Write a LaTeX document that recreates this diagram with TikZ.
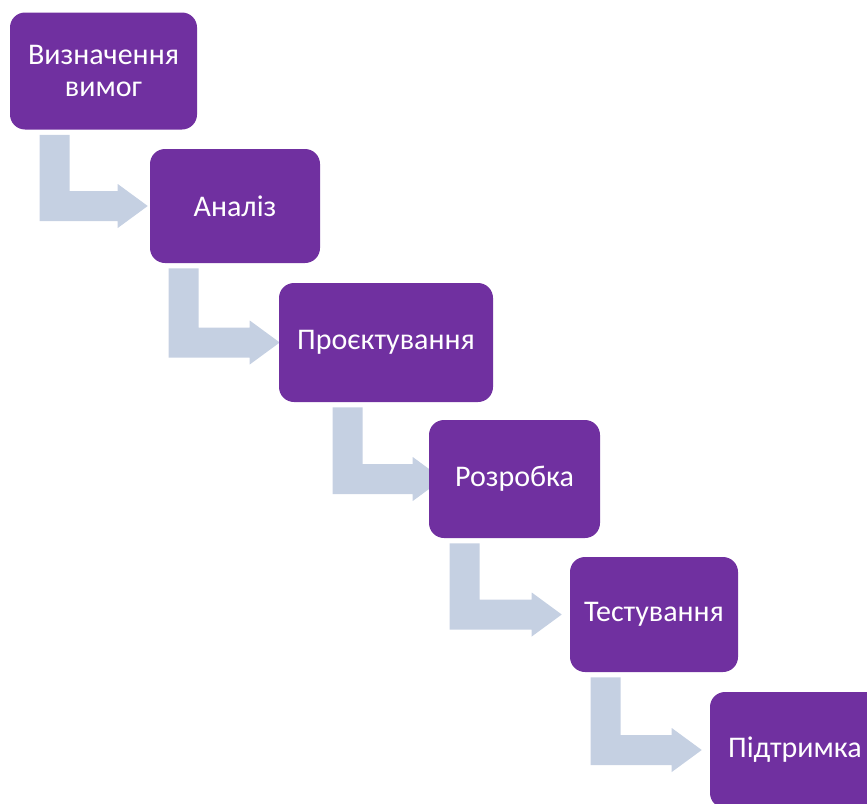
\documentclass[tikz,border=0pt]{standalone}
\usepackage{fontspec}
\setmainfont{Carlito}
\usetikzlibrary{calc,backgrounds}
\definecolor{stepviolet}{RGB}{112,48,160}
\definecolor{flowgrey}{RGB}{197,208,226}
\tikzset{
  stagebox/.style={fill=stepviolet, draw=none, rounded corners=11.25pt,
    text=white, align=center, inner sep=0pt,
    font=\fontsize{22.5pt}{24pt}\selectfont},
  flowarrow/.style={fill=flowgrey, draw=none}
}
% bent arrow from the bottom of #1 to the left side of #2;
% #3: stem offset from #1's left edge, #4: head base offset from #2's left edge (px)
\newcommand\bentarrow[4]{%
  \coordinate (st) at ($(#1.south west)+(#3,5)$);
  \coordinate (hb) at ($(#2.west)+(#4,0)$);
  \fill[flowarrow] (st) -- ++(30,0) -- ($(st |- #2.west)+(30,-15)$)
    -- ($(hb)+(0,-15)$) -- ($(hb)+(0,-22)$) -- ($(hb)+(30,0)$)
    -- ($(hb)+(0,22)$) -- ($(hb)+(0,15)$) -- ($(st |- #2.west)+(0,15)$) -- cycle;}
\begin{document}
\begin{tikzpicture}[x=0.75pt, y=-0.75pt]
  \useasboundingbox (0,0) rectangle (867,803);
  \clip (0,0) rectangle (867,803);
  % process stages
  \node[stagebox, minimum width=187*0.75pt, minimum height=117*0.75pt] (s1) at (103.5,71) {Визначення\\вимог};
  \node[stagebox, minimum width=170*0.75pt, minimum height=114*0.75pt] (s2) at (235,206) {Аналіз};
  \node[stagebox, minimum width=214*0.75pt, minimum height=119*0.75pt] (s3) at (386,342.5) {Проєктування};
  \node[stagebox, minimum width=171*0.75pt, minimum height=118*0.75pt] (s4) at (514.5,479) {Розробка};
  \node[stagebox, minimum width=168*0.75pt, minimum height=115*0.75pt] (s5) at (654,614.5) {Тестування};
  \node[stagebox, minimum width=170*0.75pt, minimum height=116*0.75pt] (s6) at (795,750) {Підтримка};
  % connectors, kept behind the stages
  \begin{scope}[on background layer]
    \bentarrow{s1}{s2}{30}{-32}
    \bentarrow{s2}{s3}{19}{-29}
    \bentarrow{s3}{s4}{54}{-16}
    \bentarrow{s4}{s5}{21}{-38}
    \bentarrow{s5}{s6}{21}{-38}
  \end{scope}
\end{tikzpicture}
\end{document}
